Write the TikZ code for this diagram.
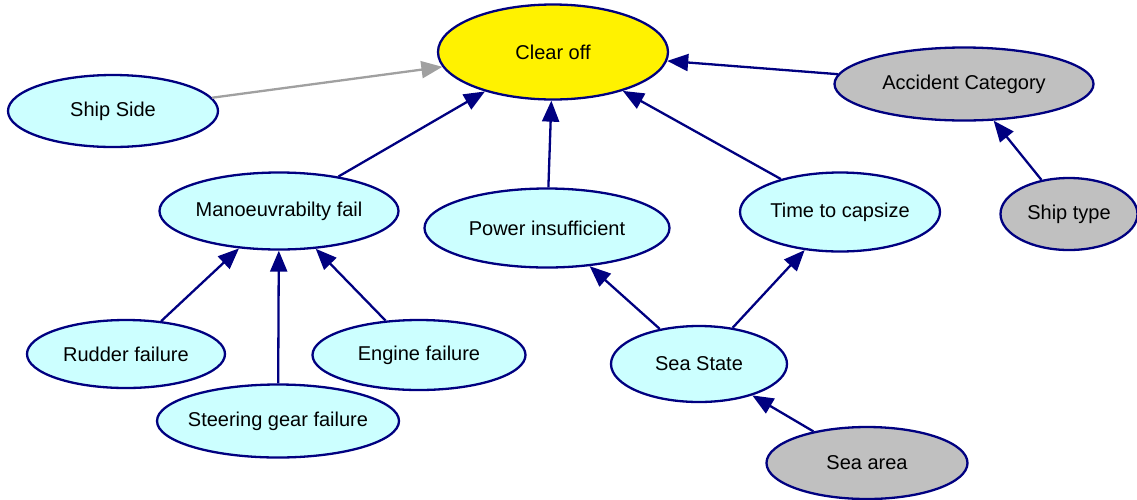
\documentclass[tikz,border=0pt]{standalone}
\usepackage{fontspec}
\setmainfont{Liberation Sans}
\usepackage{tikz}
\usetikzlibrary{shapes.geometric,positioning,arrows.meta}

\definecolor{nodecyan}{HTML}{CCFFFF}
\definecolor{nodegray}{HTML}{C0C0C0}
\definecolor{edgenavy}{HTML}{000080}
\definecolor{edgegray}{HTML}{A0A0A0}

\tikzset{
  factor/.style={ellipse, draw=edgenavy, line width=2.3pt, fill=nodecyan,
    inner sep=0pt, font=\fontsize{20}{24}\selectfont},
  context/.style={factor, fill=nodegray},
  goal/.style={factor, fill=yellow},
  link/.style={edgenavy, line width=2.3pt, -{Triangle[length=21pt,width=17pt]}},
  weaklink/.style={link, edgegray}
}

\begin{document}
\begin{tikzpicture}[x=1pt,y=1pt,on grid]
       \useasboundingbox (0,0) rectangle (1137,-499);
       \node [goal, minimum width=230pt, minimum height=95pt] (clear_off) at (553,-52) {Clear off};
       \node [factor, minimum width=210pt, minimum height=72pt, below left=59pt and 440pt of clear_off] (ship_side) {Ship Side};
       \node [context, minimum width=259pt, minimum height=73pt, below right=32pt and 411pt of clear_off] (accident) {Accident Category};
       \node [factor, minimum width=239pt, minimum height=77pt, below left=159pt and 274pt of clear_off] (manoeuv) {Manoeuvrabilty fail};
       \node [factor, minimum width=245pt, minimum height=79pt, below left=176pt and 6pt of clear_off] (power) {Power insufficient};
       \node [factor, minimum width=200pt, minimum height=79pt, below right=160pt and 287pt of clear_off] (capsize) {Time to capsize};
       \node [context, minimum width=137pt, minimum height=72pt, below right=130pt and 105pt of accident] (ship_type) {Ship type};
       \node [factor, minimum width=198pt, minimum height=68pt, below left=143pt and 153pt of manoeuv] (rudder) {Rudder failure};
       \node [factor, minimum width=213pt, minimum height=70pt, below right=144pt and 140pt of manoeuv] (engine) {Engine failure};
       \node [factor, minimum width=242pt, minimum height=73pt, inner xsep=-5pt, below left=210pt and 1pt of manoeuv] (steering) {Steering gear failure};
       \node [factor, minimum width=176pt, minimum height=76pt, below right=136pt and 152pt of power] (sea_state) {Sea State};
       \node [context, minimum width=201pt, minimum height=72pt, below right=99pt and 168pt of sea_state] (sea_area) {Sea area};
        \path
        (ship_side) edge [weaklink] (clear_off)
        (accident) edge [link] (clear_off)
        (manoeuv) edge [link] (clear_off)
        (power) edge [link] (clear_off)
        (capsize) edge [link] (clear_off)
        (ship_type) edge [link] (accident)
        (rudder) edge [link] (manoeuv)
        (steering) edge [link] (manoeuv)
        (engine) edge [link] (manoeuv)
        (sea_state) edge [link] (power)
                    edge [link] (capsize)
        (sea_area) edge [link] (sea_state);
    \end{tikzpicture}
\end{document}
